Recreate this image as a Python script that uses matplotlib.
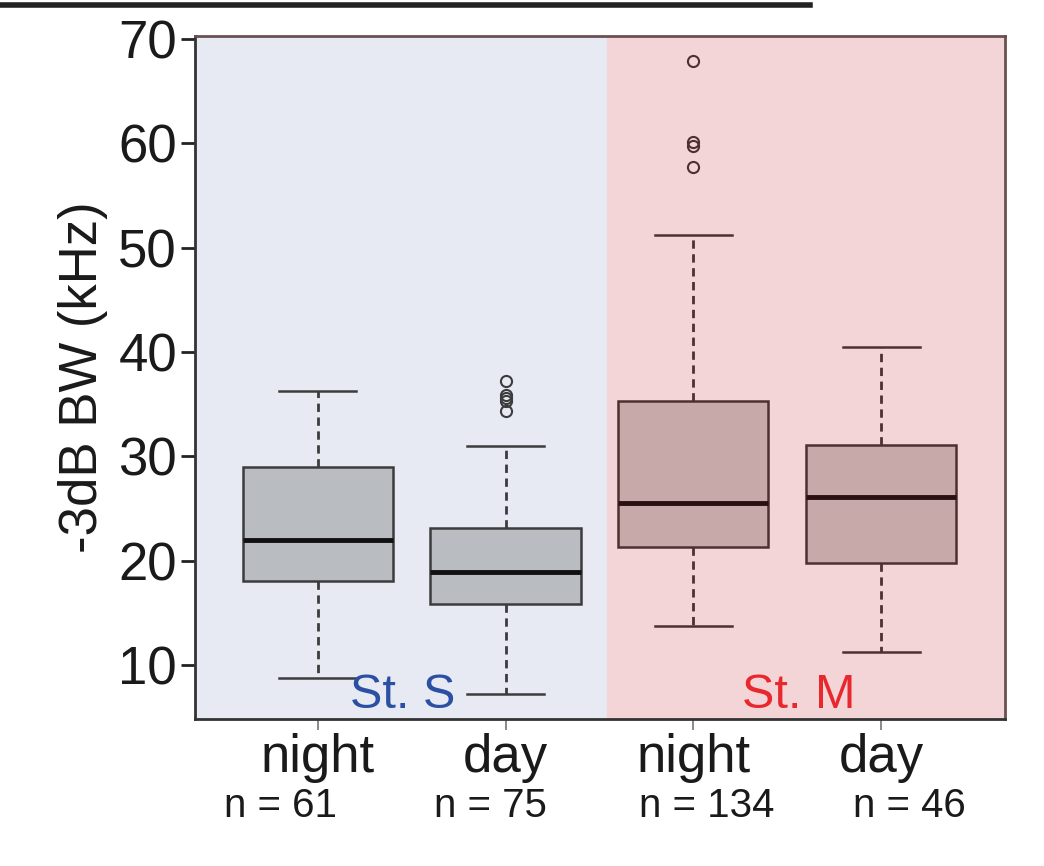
import matplotlib.pyplot as plt
from matplotlib.lines import Line2D

plt.rcParams['font.family'] = ['Liberation Sans', 'DejaVu Sans']

groups = ['night', 'day', 'night', 'day']
n_counts = [61, 75, 134, 46]
stations = ['St. S', 'St. M']

# box statistics (kHz)
q1 = [18.0, 15.8, 21.3, 19.8]
medians = [22.0, 18.9, 25.5, 26.1]
q3 = [29.0, 23.1, 35.3, 31.1]
whis_lo = [8.7, 7.2, 13.7, 11.2]
whis_hi = [36.3, 31.0, 51.2, 40.5]
outliers = [[], [37.2, 35.9, 35.6, 35.3, 34.3], [67.9, 60.1, 59.8, 57.7], []]

positions = [1, 2, 3, 4]
split = 2.54
xmin, xmax = 0.346, 4.66

fig = plt.figure(figsize=(10.44, 8.66), dpi=100)
ax = fig.add_axes([0.1868, 0.1697, 0.7759, 0.7887])

ax.axvspan(xmin, split, color='#e7eaf3', zorder=0)
ax.axvspan(split, xmax, color='#f3d4d7', zorder=0)

fills = ['#b9bcc1', '#b9bcc1', '#c8a9aa', '#c8a9aa']
edges = ['#3c3c3c', '#3c3c3c', '#4f3030', '#4f3030']
meds = ['#111111', '#111111', '#2a1010', '#2a1010']

for i in range(4):
    stats = [dict(med=medians[i], q1=q1[i], q3=q3[i], whislo=whis_lo[i],
                  whishi=whis_hi[i], fliers=outliers[i])]
    ax.bxp(stats, positions=[positions[i]], widths=0.8, patch_artist=True,
           boxprops=dict(facecolor=fills[i], edgecolor=edges[i], linewidth=1.8),
           medianprops=dict(color=meds[i], linewidth=3.5),
           whiskerprops=dict(color=edges[i], linewidth=2, linestyle=(0, (3, 2))),
           capprops=dict(color=edges[i], linewidth=1.8),
           capwidths=0.41,
           flierprops=dict(marker='o', markersize=8, markerfacecolor='none',
                           markeredgecolor=edges[i], markeredgewidth=1.5),
           manage_ticks=False)

ax.set_xlim(xmin, xmax)
ax.set_ylim(4.8, 70.3)
ax.set_xticks(positions)
ax.set_xticklabels(groups)
ax.set_yticks([10, 20, 30, 40, 50, 60, 70])
ax.tick_params(axis='y', labelsize=38, length=10, width=2, pad=3, colors='#222222')
ax.tick_params(axis='x', labelsize=38, length=8, width=1.2, pad=2, colors='#777777')
for lab in ax.get_xticklabels() + ax.get_yticklabels():
    lab.set_color('#1a1a1a')

for side in ['left', 'bottom']:
    ax.spines[side].set_color('#333333')
    ax.spines[side].set_linewidth(2)
for side in ['top', 'right']:
    ax.spines[side].set_color('#6a5050')
    ax.spines[side].set_linewidth(2)

ax.set_ylabel('-3dB BW (kHz)', fontsize=38, color='#1a1a1a')
ax.yaxis.set_label_coords(-0.108, 0.5)

ax.text(1.45, 5.9, stations[0], fontsize=35, color='#2a4fa3', ha='center', va='baseline')
ax.text(3.56, 5.9, stations[1], fontsize=35, color='#e8282c', ha='center', va='baseline')

n_x = [0.80, 1.92, 3.07, 4.15]
for x, n in zip(n_x, n_counts):
    ax.text(x, -0.127, f'n = {n}', fontsize=29, color='#1a1a1a', ha='center', va='center',
            transform=ax.get_xaxis_transform(), clip_on=False)

fig.add_artist(Line2D([0, 0.776], [0.9948, 0.9948], color='#222222', linewidth=4,
                      transform=fig.transFigure))

fig.savefig('out.png', dpi=100)
